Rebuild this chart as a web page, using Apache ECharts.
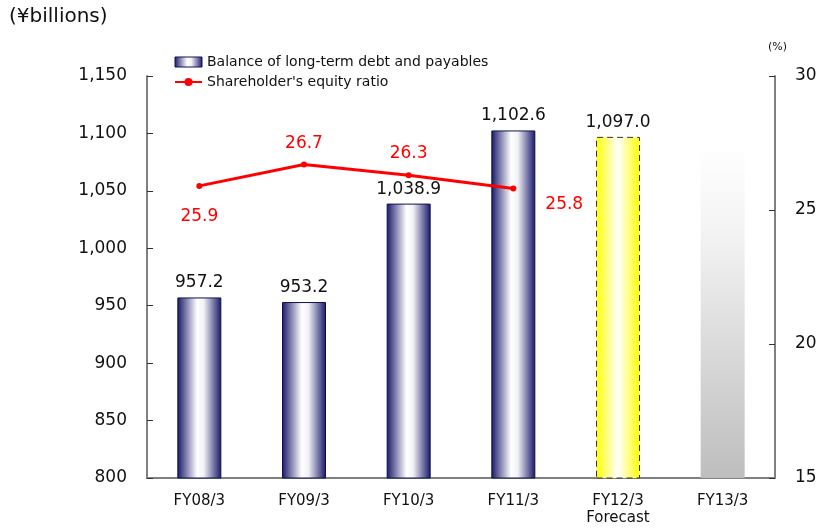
<!DOCTYPE html>
<html>
<head>
<meta charset="utf-8">
<script src="https://cdn.jsdelivr.net/npm/echarts@6/dist/echarts.min.js"></script>
<style>
  html, body { margin: 0; padding: 0; background: #fff; }
  #chart { width: 820px; height: 529px; }
</style>
</head>
<body>
<div id="chart"></div>
<script>
// Fiscal years on the x axis
const categories = ['FY08/3', 'FY09/3', 'FY10/3', 'FY11/3', 'FY12/3\nForecast', 'FY13/3'];
// Balance of long-term debt and payables (¥ billions), actual years
const debtActual = [957.2, 953.2, 1038.9, 1102.6, null, null];
// Forecast year
const debtForecast = [null, null, null, null, 1097.0, null];
// Next year shown as a faded placeholder column
const debtPlaceholder = [null, null, null, null, null, 1090];
// Shareholder's equity ratio (%)
const equityRatio = [25.9, 26.7, 26.3, 25.8, null, null];

// Label placement for each equity-ratio point
const equityLabels = [
  { position: 'bottom', distance: 19 },
  { position: 'top', distance: 9 },
  { position: 'top', distance: 10 },
  { position: 'right', distance: 29, offset: [0, 16] }
];

const FONT = 'DejaVu Sans';
const navy = '#17176a';

const barGrad = new echarts.graphic.LinearGradient(0, 0, 1, 0, [
  { offset: 0, color: navy },
  { offset: 0.45, color: '#ffffff' },
  { offset: 0.6, color: '#f2f2f6' },
  { offset: 1, color: navy }
]);
const yellowGrad = new echarts.graphic.LinearGradient(0, 0, 1, 0, [
  { offset: 0, color: '#ffff00' },
  { offset: 0.5, color: '#ffffff' },
  { offset: 1, color: '#ffff00' }
]);
const greyGrad = new echarts.graphic.LinearGradient(0, 0, 0, 1, [
  { offset: 0, color: '#ffffff' },
  { offset: 0.25, color: '#f4f4f4' },
  { offset: 1, color: '#bebebe' }
]);

const fmtAmount = p => p.value.toLocaleString('en-US', { minimumFractionDigits: 1 });

const chart = echarts.init(document.getElementById('chart'));
chart.setOption({
  animation: false,
  backgroundColor: '#fff',
  textStyle: { fontFamily: FONT },
  grid: { left: 147, right: 45, top: 76, bottom: 51 },
  legend: {
    left: 169, top: 50, orient: 'vertical', itemGap: 6,
    itemWidth: 27, itemHeight: 10,
    textStyle: { fontSize: 14, color: '#111', fontFamily: FONT },
    data: [
      { name: 'Balance of long-term debt and payables', icon: 'rect',
        itemStyle: { color: barGrad, borderColor: '#10104f', borderWidth: 1 } },
      { name: "Shareholder's equity ratio" }
    ]
  },
  graphic: [
    { type: 'text', left: 9, top: 7,
      style: { text: '(¥billions)', fontSize: 20, fill: '#111', fontFamily: FONT } },
    { type: 'text', left: 768, top: 42,
      style: { text: '(%)', fontSize: 11, fill: '#111', fontFamily: FONT } }
  ],
  xAxis: {
    type: 'category', data: categories,
    axisLine: { lineStyle: { color: '#808080', width: 2 } },
    axisTick: { inside: true, length: 6, lineStyle: { color: '#333' } },
    axisLabel: { fontSize: 15, color: '#111', margin: 15, lineHeight: 17, fontFamily: FONT }
  },
  yAxis: [
    {
      type: 'value', min: 800, max: 1150, interval: 50,
      splitLine: { show: false },
      axisLine: { show: true, lineStyle: { color: '#808080', width: 2 } },
      axisTick: { show: true, inside: true, length: 6, lineStyle: { color: '#333' } },
      axisLabel: { fontSize: 17, color: '#111', margin: 20, fontFamily: FONT,
        formatter: v => v.toLocaleString('en-US') }
    },
    {
      type: 'value', min: 15, max: 30, interval: 5,
      splitLine: { show: false },
      axisLine: { show: true, lineStyle: { color: '#808080', width: 2 } },
      axisTick: { show: true, inside: true, length: 6, lineStyle: { color: '#333' } },
      axisLabel: { fontSize: 17, color: '#111', margin: 20, fontFamily: FONT }
    }
  ],
  series: [
    {
      name: 'Balance of long-term debt and payables', type: 'bar', data: debtActual,
      barWidth: 44, barGap: '-100%',
      itemStyle: { color: barGrad, borderColor: '#10104f', borderWidth: 1 },
      label: { show: true, position: 'top', distance: 6, fontSize: 17, color: '#111',
        fontFamily: FONT, formatter: fmtAmount }
    },
    {
      name: 'forecast', type: 'bar', data: debtForecast, barWidth: 44, barGap: '-100%',
      itemStyle: { color: yellowGrad, borderColor: '#333', borderWidth: 1, borderType: [6, 4] },
      label: { show: true, position: 'top', distance: 6, fontSize: 17, color: '#111',
        fontFamily: FONT, formatter: fmtAmount }
    },
    {
      name: 'placeholder', type: 'bar', data: debtPlaceholder, barWidth: 44, barGap: '-100%',
      itemStyle: { color: greyGrad }
    },
    {
      name: "Shareholder's equity ratio", type: 'line', yAxisIndex: 1,
      data: equityRatio.map((v, i) => ({ value: v, label: equityLabels[i] || {} })),
      symbol: 'circle', symbolSize: 6,
      lineStyle: { color: '#ff0000', width: 3 },
      itemStyle: { color: '#ff0000' },
      label: { show: true, fontSize: 17, color: '#ff0000', fontFamily: FONT,
        formatter: p => p.value.toFixed(1) }
    }
  ]
});
</script>
</body>
</html>
